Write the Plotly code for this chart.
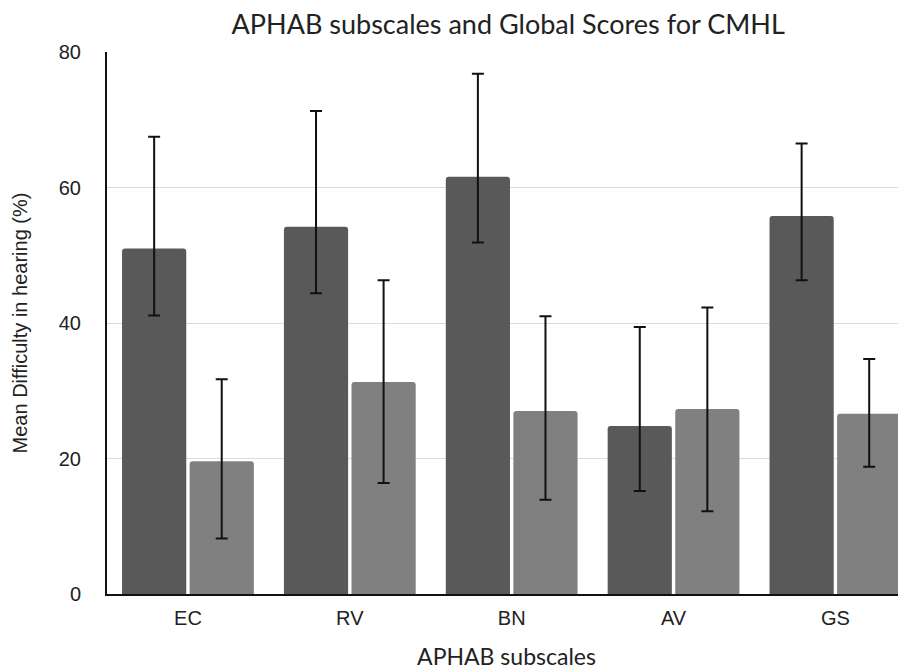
import plotly.graph_objects as go

categories = ["EC", "RV", "BN", "AV", "GS"]
series_a = [51.0, 54.2, 61.6, 24.8, 55.8]
series_a_err_plus = [16.5, 17.1, 15.2, 14.6, 10.7]
series_a_err_minus = [9.9, 9.8, 9.7, 9.6, 9.5]
series_b = [19.6, 31.3, 27.0, 27.3, 26.6]
series_b_err_plus = [12.1, 15.0, 14.0, 15.0, 8.1]
series_b_err_minus = [11.4, 14.9, 13.1, 15.1, 7.8]
y_ticks = [0, 20, 40, 60, 80]

tick_font = dict(family="Liberation Sans, Arial", size=20, color="#222")

fig = go.Figure()
fig.add_trace(go.Bar(
    x=categories, y=series_a, marker_color="#595959", marker_line_width=0,
    error_y=dict(type="data", symmetric=False, array=series_a_err_plus,
                 arrayminus=series_a_err_minus, color="#111", thickness=2, width=6),
))
fig.add_trace(go.Bar(
    x=categories, y=series_b, marker_color="#808080", marker_line_width=0,
    error_y=dict(type="data", symmetric=False, array=series_b_err_plus,
                 arrayminus=series_b_err_minus, color="#111", thickness=2, width=6),
))

fig.update_layout(
    width=898, height=662,
    margin=dict(l=99, r=0, t=44, b=76, autoexpand=False),
    paper_bgcolor="white", plot_bgcolor="white",
    showlegend=False,
    barmode="group", bargap=0.165, bargroupgap=0.05,
    barcornerradius=3,
    title=dict(text="APHAB subscales and Global Scores for CMHL",
               x=0.557, xanchor="center", y=1 - 17 / 662, yanchor="middle",
               font=dict(family="Lato, Noto Sans", size=27, color="#222")),
)
fig.update_xaxes(
    range=[-0.5, 4.436], showline=True, linecolor="#111", linewidth=2,
    showgrid=False, ticks="outside", ticklen=5, tickcolor="rgba(0,0,0,0)",
    tickfont=tick_font, automargin=False,
    title=dict(text="APHAB subscales",
               font=dict(family="Lato, Noto Sans", size=23, color="#222"), standoff=25),
)
fig.update_yaxes(
    range=[0, 80], tickvals=y_ticks, showline=True, linecolor="#111", linewidth=2,
    showgrid=True, gridcolor="#dcdcdc", gridwidth=1, zeroline=False,
    ticks="outside", ticklen=20, tickcolor="rgba(0,0,0,0)",
    tickfont=tick_font, automargin=False,
    title=dict(text="Mean Difficulty in hearing (%)",
               font=dict(family="Liberation Sans, Arial", size=20, color="#222"), standoff=26),
)

fig.write_html("out.html")
